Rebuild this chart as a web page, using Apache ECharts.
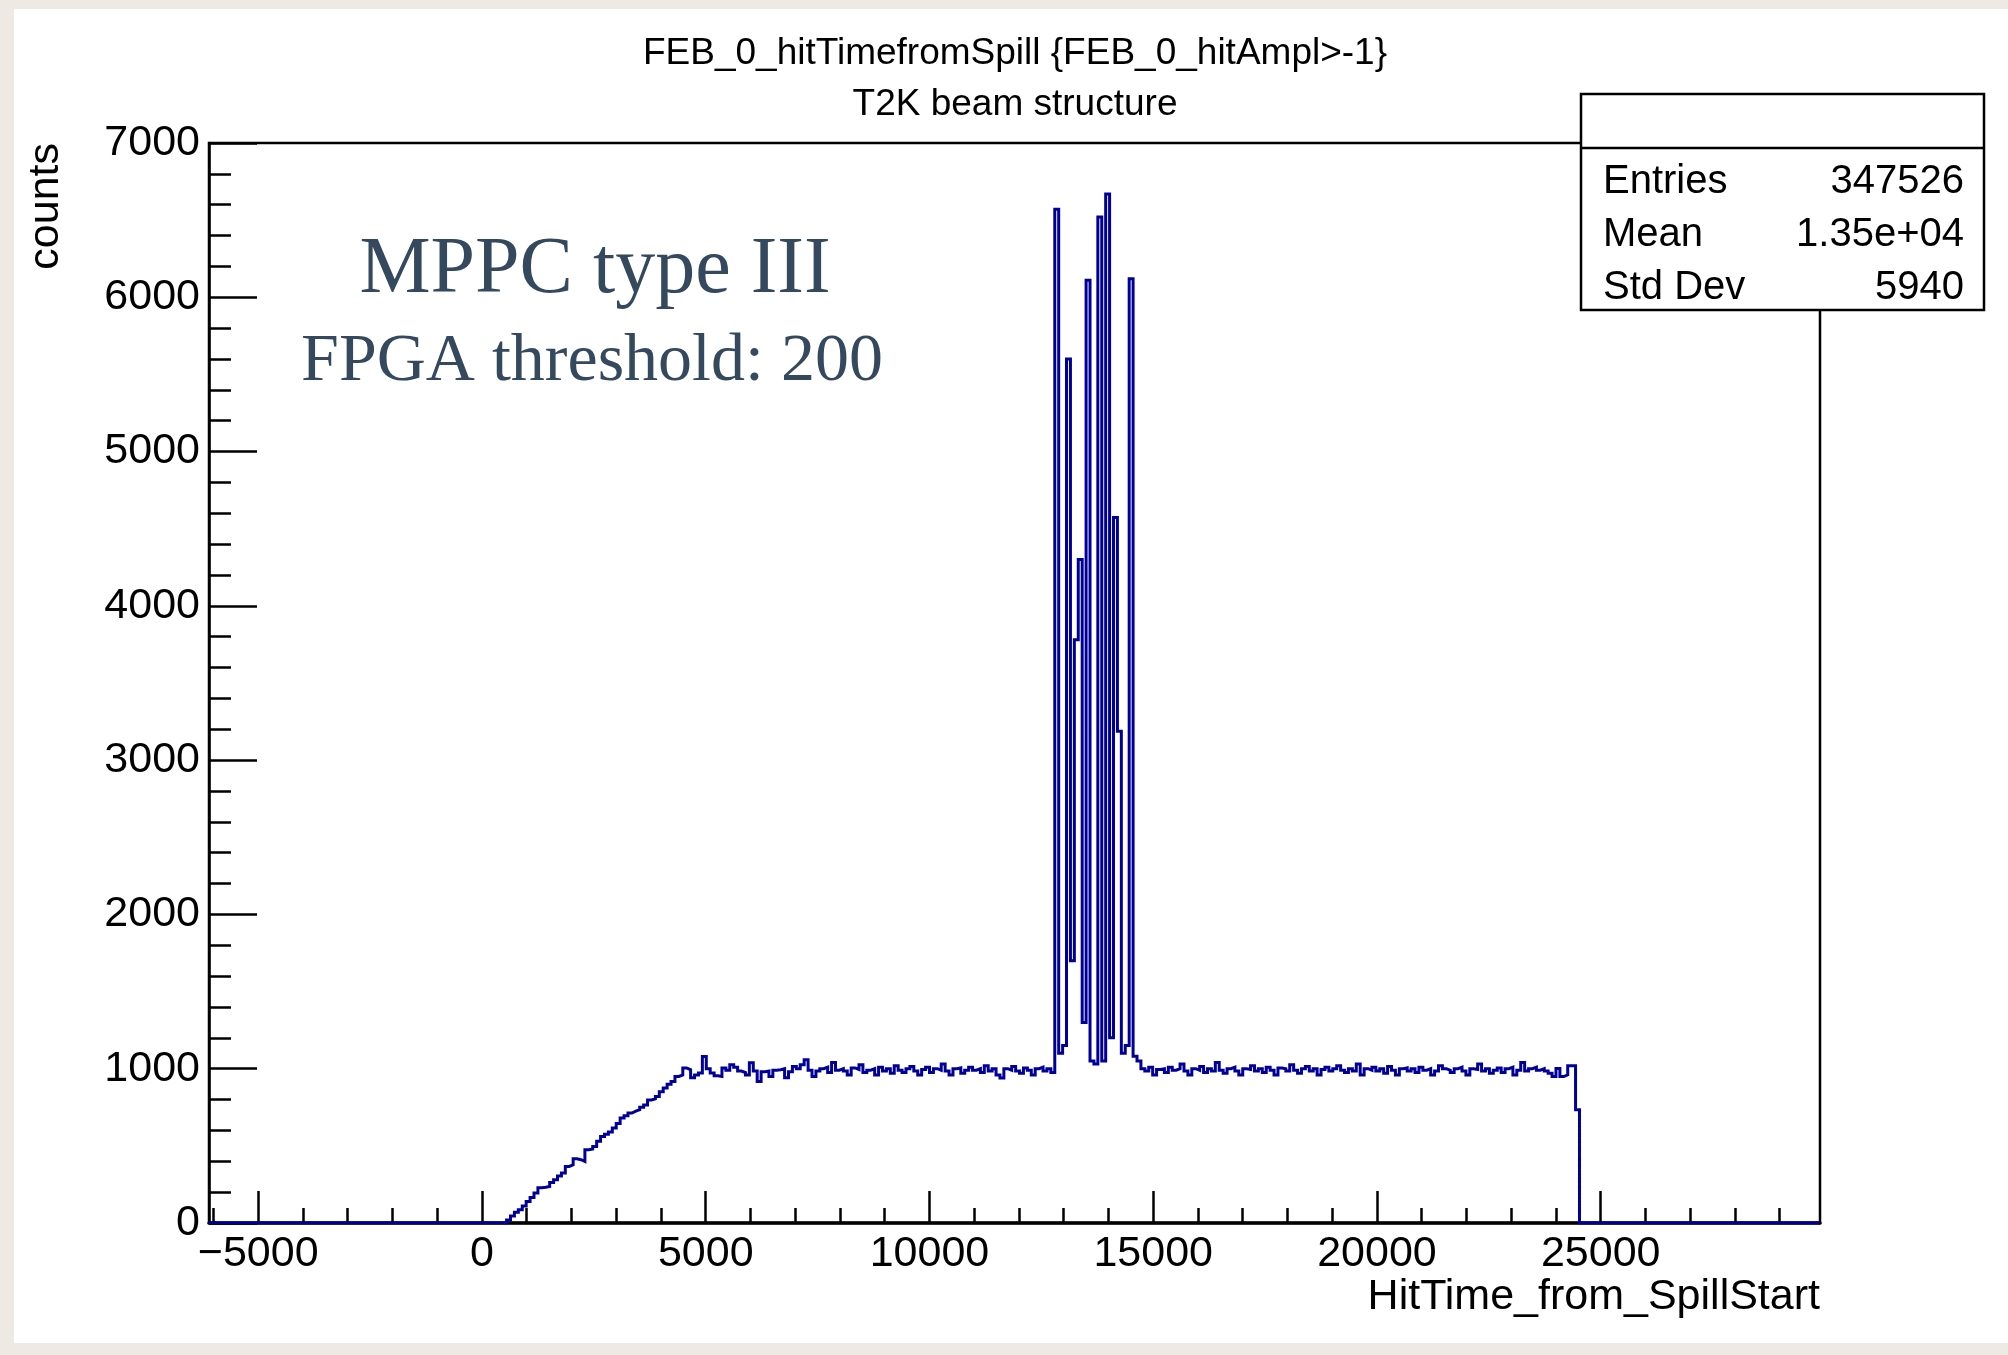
<!DOCTYPE html>
<html><head><meta charset="utf-8">
<script src="https://cdn.jsdelivr.net/npm/echarts@6/dist/echarts.min.js"></script>
<style>
html,body{margin:0;padding:0;background:#eeeae3;overflow:hidden;}
#paper{position:absolute;left:14px;top:9px;width:1994px;height:1334px;background:#fff;}
#chart{position:absolute;left:0;top:0;width:2008px;height:1355px;}
</style></head><body><div id="paper"></div><div id="chart"></div>
<script>
// ---- histogram binning ----
const histMin = -6100;
const histMax = 29900;
const binWidth = 87.5;

// ---- bin contents (counts) ----
const rampStartBin = 76;
const rampCounts = [
  20, 45, 70, 86, 110, 140, 165, 195, 228, 232,
  237, 262, 280, 305, 324, 367, 377, 416, 410, 399,
  475, 480, 496, 530, 561, 575, 590, 616, 645, 681,
  695, 713, 725, 734, 750, 765, 798, 805, 820, 850,
  875, 900, 917, 950, 960, 1005, 993, 941, 960, 973,
  1079, 1000, 973
];
const plateauAStartBin = 129;
const plateauACounts = [
  955, 950, 1005, 990, 1025, 1010, 985, 975, 960, 1038,
  985, 917, 980, 985, 950, 990, 993, 1000, 941, 980,
  1014, 1000, 1025, 1058, 990, 950, 985, 1000, 1010, 975,
  1040, 990, 1000, 985, 960, 1005, 995, 1025, 975, 990,
  1000, 960, 1010, 985, 1000, 970, 1020, 990, 975, 1000,
  1015, 985, 960, 995, 1010, 975, 1000, 990, 1030, 985,
  960, 1000, 1005, 970, 990, 1010, 990, 1000, 975, 1020,
  985, 1000, 960, 940, 1000, 990, 1015, 985, 970, 1005,
  990, 960, 1000, 1010, 985
];
const bunchStartBin = 214;
const bunchCounts = [
  1000, 975, 6570, 1100, 1150, 5600, 1700, 3780, 4300, 1300,
  6110, 1050, 1030, 6520, 1050, 6670, 1200, 4573, 3188, 1100,
  1150, 6120, 1080, 1050
];
const plateauBStartBin = 238;
const plateauBCounts = [
  1000, 985, 1010, 960, 995, 1000, 975, 1010, 990, 1000,
  1030, 985, 960, 1000, 990, 1015, 975, 1000, 985, 1040,
  990, 970, 1000, 1010, 985, 960, 1000, 995, 1020, 985,
  1000, 975, 1010, 990, 960, 1005, 1000, 985, 1025, 990,
  970, 1000, 1015, 985, 1000, 960, 995, 1010, 985, 1000,
  1020, 990, 975, 1000, 985, 1030, 960, 1000, 990, 1010,
  985, 1000, 970, 1015, 990, 960, 1000, 1005, 985, 1000,
  975, 1010, 990, 1000, 960, 985, 1020, 1000, 990, 975,
  1000, 1010, 985, 960, 1000, 995, 1030, 985, 1000, 970,
  990, 1005, 975, 1000, 1010, 960, 990, 1040, 985, 1000,
  1010, 990, 1000, 985, 971, 949, 1002, 949, 960, 1020,
  1020
];
const tailStartBin = 349;
const tailCounts = [734];

// ---- axes ----
const yMin = 0, yMax = 7000, yStep = 1000;
const xMajorTicks = [-5000, 0, 5000, 10000, 15000, 20000, 25000];
const xMinorTicks = [-6000,-4000,-3000,-2000,-1000,1000,2000,3000,4000,6000,7000,8000,9000,
  11000,12000,13000,14000,16000,17000,18000,19000,21000,22000,23000,24000,26000,27000,28000,29000];

// ---- texts ----
const titleMain = 'FEB_0_hitTimefromSpill {FEB_0_hitAmpl>-1}';
const titleSub = 'T2K beam structure';
const xTitle = 'HitTime_from_SpillStart';
const yTitle = 'counts';
const statsRows = [['Entries', '347526'], ['Mean', '1.35e+04'], ['Std Dev', '5940']];
const noteLine1 = 'MPPC type III';
const noteLine2 = 'FPGA threshold: 200';

// ---- build histogram outline ----
const nBins = Math.ceil((histMax - histMin) / binWidth);
const binVals = new Array(nBins).fill(0);
function place(start, arr) { arr.forEach((v, i) => { binVals[start + i] = v; }); }
place(rampStartBin, rampCounts);
place(plateauAStartBin, plateauACounts);
place(bunchStartBin, bunchCounts);
place(plateauBStartBin, plateauBCounts);
place(tailStartBin, tailCounts);
const histData = [];
for (let k = 0; k < nBins; k++) histData.push([histMin + k * binWidth, binVals[k]]);
histData.push([histMax, binVals[nBins - 1]]);

const FONT = '"Liberation Sans", Arial, Helvetica, sans-serif';
const SERIF = '"Liberation Serif", "Times New Roman", serif';
const chart = echarts.init(document.getElementById('chart'), null, {renderer: 'canvas'});
const fmt = v => (v < 0 ? '\u2212' + Math.abs(v) : String(v));

const gL = 209, gT = 143, gR = 1820, gB = 1223;
const statsX0 = 1581, statsX1 = 1984, statsY0 = 94, statsY1 = 310, statsDiv = 148;
const graphics = [
  {type: 'text', x: 1015, y: 54, z: 50, style: {text: titleMain, font: '37px ' + FONT, fill: '#000', align: 'center', verticalAlign: 'middle'}},
  {type: 'text', x: 1015, y: 105, z: 50, style: {text: titleSub, font: '37px ' + FONT, fill: '#000', align: 'center', verticalAlign: 'middle'}},
  {type: 'text', x: 1820, y: 1297, z: 50, style: {text: xTitle, font: '43px ' + FONT, fill: '#000', align: 'right', verticalAlign: 'middle'}},
  {type: 'text', x: 46, y: 143, rotation: Math.PI / 2, z: 50, style: {text: yTitle, font: '43px ' + FONT, fill: '#000', align: 'right', verticalAlign: 'middle'}},
  {type: 'rect', z: 60, shape: {x: statsX0, y: statsY0, width: statsX1 - statsX0, height: statsY1 - statsY0}, style: {fill: '#fff', stroke: '#000', lineWidth: 2.5}},
  {type: 'line', z: 61, shape: {x1: statsX0, y1: statsDiv, x2: statsX1, y2: statsDiv}, style: {stroke: '#000', lineWidth: 2.5}},
  {type: 'text', x: 595, y: 271, z: 50, style: {text: noteLine1, font: '80px ' + SERIF, fill: '#34495e', align: 'center', verticalAlign: 'middle'}},
  {type: 'text', x: 592, y: 362, z: 50, style: {text: noteLine2, font: '68px ' + SERIF, fill: '#34495e', align: 'center', verticalAlign: 'middle'}}
];
const rowY = [182, 235, 288];
statsRows.forEach((r, i) => {
  graphics.push({type: 'text', x: 1603, y: rowY[i], z: 62, style: {text: r[0], font: '40px ' + FONT, fill: '#000', align: 'left', verticalAlign: 'middle'}});
  graphics.push({type: 'text', x: 1964, y: rowY[i], z: 62, style: {text: r[1], font: '40px ' + FONT, fill: '#000', align: 'right', verticalAlign: 'middle'}});
});

const yAxisLine = {show: true, onZero: false, lineStyle: {color: '#000', width: 2.5}};
const xAxisLine = {show: true, onZero: false, lineStyle: {color: '#000', width: 3.5}};
chart.setOption({
  animation: false,
  backgroundColor: 'transparent',
  grid: {left: gL, top: gT, width: gR - gL, height: gB - gT, show: true, borderColor: '#000', borderWidth: 2.5, backgroundColor: 'transparent'},
  xAxis: [
    {type: 'value', min: histMin, max: histMax, position: 'bottom', axisLine: xAxisLine,
     axisTick: {show: true, inside: true, length: 32, customValues: xMajorTicks, lineStyle: {color: '#000', width: 2.5}},
     axisLabel: {show: true, customValues: xMajorTicks, formatter: fmt, margin: 10, color: '#000', fontSize: 43, fontFamily: FONT},
     splitLine: {show: false}},
    {type: 'value', min: histMin, max: histMax, position: 'bottom', axisLine: {show: false, onZero: false},
     axisTick: {show: true, inside: true, length: 15, customValues: xMinorTicks, lineStyle: {color: '#000', width: 2.5}},
     axisLabel: {show: false}, splitLine: {show: false}}
  ],
  yAxis: {type: 'value', min: yMin, max: yMax, interval: yStep, position: 'left', axisLine: yAxisLine,
    axisTick: {show: true, inside: true, length: 48, lineStyle: {color: '#000', width: 2.5}},
    minorTick: {show: true, splitNumber: 5, length: 22, lineStyle: {color: '#000', width: 2.5}},
    axisLabel: {margin: 9, formatter: fmt, color: '#000', fontSize: 43, fontFamily: FONT},
    splitLine: {show: false}, minorSplitLine: {show: false}},
  series: [{type: 'line', xAxisIndex: 0, step: 'end', data: histData, symbol: 'none', showSymbol: false,
    lineStyle: {color: '#000099', width: 3, join: 'miter'}, z: 5, clip: true}],
  graphic: graphics
});
</script></body></html>
